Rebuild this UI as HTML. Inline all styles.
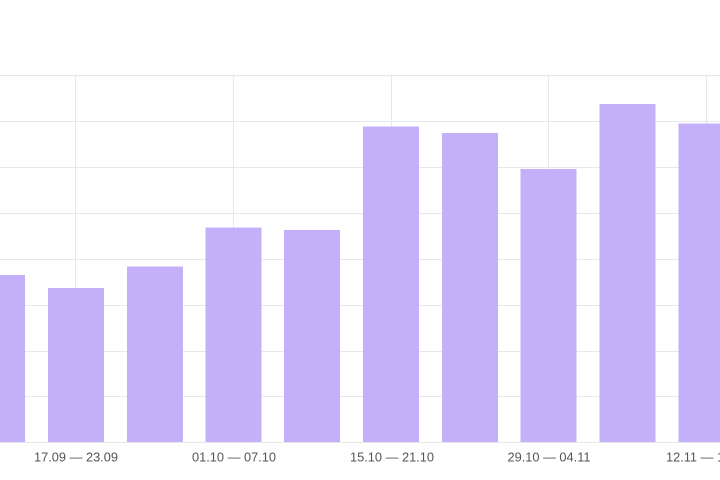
<!DOCTYPE html>
<html>
<head>
<meta charset="utf-8">
<style>
html,body{margin:0;padding:0;background:#fff;}
svg{display:block;}
text{font-family:"Liberation Sans",Arial,sans-serif;font-size:12.8px;fill:#555;}
</style>
</head>
<body>
<svg width="720" height="480" viewBox="0 0 720 480" xmlns="http://www.w3.org/2000/svg">
<rect width="720" height="480" fill="#fff"/>
<g stroke="#e8e8e8" stroke-width="1">
<line x1="0" y1="75.5" x2="720" y2="75.5"/>
<line x1="0" y1="121.5" x2="720" y2="121.5"/>
<line x1="0" y1="167.5" x2="720" y2="167.5"/>
<line x1="0" y1="213.5" x2="720" y2="213.5"/>
<line x1="0" y1="259.5" x2="720" y2="259.5"/>
<line x1="0" y1="305.5" x2="720" y2="305.5"/>
<line x1="0" y1="351.5" x2="720" y2="351.5"/>
<line x1="0" y1="396.5" x2="720" y2="396.5"/>
<line x1="0" y1="442.5" x2="720" y2="442.5"/>
<line x1="75.5" y1="75" x2="75.5" y2="442"/>
<line x1="233.5" y1="75" x2="233.5" y2="442"/>
<line x1="391.5" y1="75" x2="391.5" y2="442"/>
<line x1="548.5" y1="75" x2="548.5" y2="442"/>
<line x1="706.5" y1="75" x2="706.5" y2="442"/>
</g>
<g fill="#c3b0f8">
<rect x="-31" y="275" width="56" height="167"/>
<rect x="48" y="288" width="56" height="154"/>
<rect x="127" y="266.5" width="56" height="175.5"/>
<rect x="205.5" y="227.5" width="56" height="214.5"/>
<rect x="284" y="230" width="56" height="212"/>
<rect x="363" y="126.5" width="56" height="315.5"/>
<rect x="442" y="133" width="56" height="309"/>
<rect x="520.5" y="169" width="56" height="273"/>
<rect x="599.5" y="104" width="56" height="338"/>
<rect x="678.5" y="123.5" width="56" height="318.5"/>
</g>
<g text-anchor="middle">
<text x="76" y="461.5">17.09 — 23.09</text>
<text x="234" y="461.5">01.10 — 07.10</text>
<text x="392" y="461.5">15.10 — 21.10</text>
<text x="549" y="461.5">29.10 — 04.11</text>
<text x="707" y="461.5">12.11 — 18.11</text>
</g>
</svg>
</body>
</html>
